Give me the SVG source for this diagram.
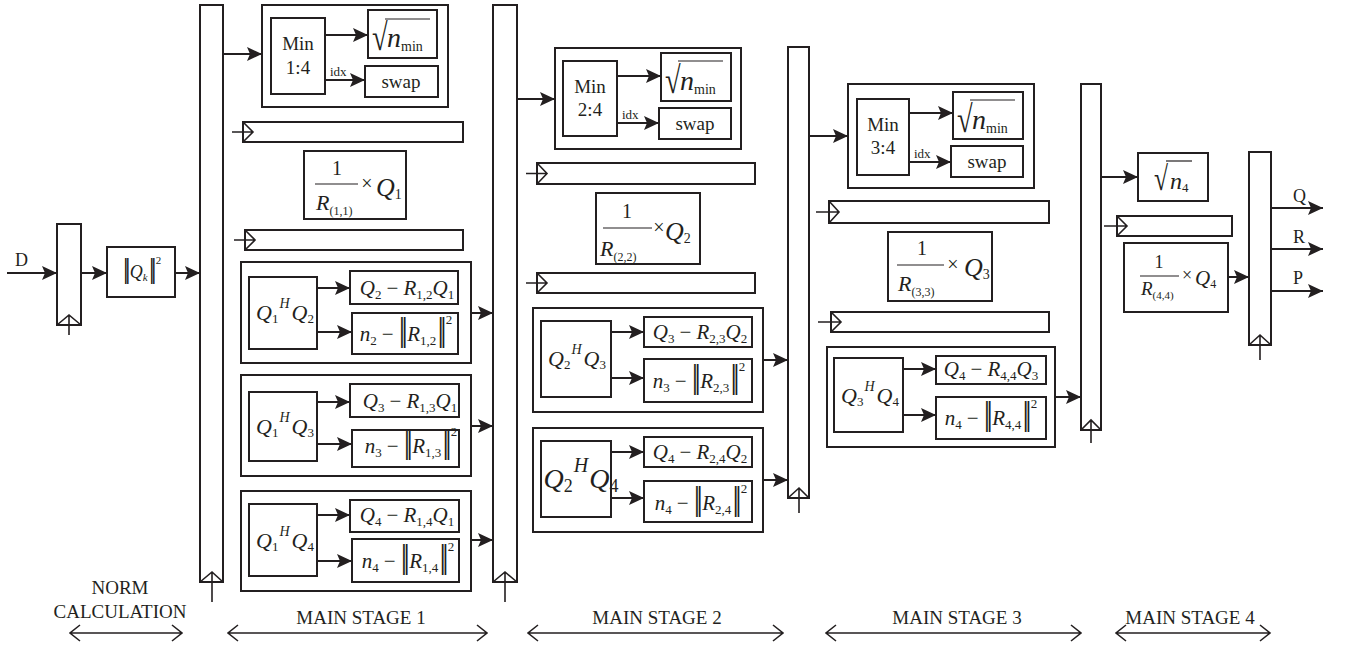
<svg xmlns="http://www.w3.org/2000/svg" width="1347" height="646" viewBox="0 0 1347 646">
<defs>
<marker id="ah" markerUnits="userSpaceOnUse" markerWidth="16" markerHeight="14" refX="15" refY="7" orient="auto"><path d="M0,0 L15,7 L0,14 L3,7 Z" fill="#231f20"/></marker>
</defs>
<style>
.bx{fill:none;stroke:#231f20;stroke-width:2}
.ar{fill:none;stroke:#231f20;stroke-width:2;marker-end:url(#ah)}
.ck{fill:none;stroke:#231f20;stroke-width:1.6}
.fl{stroke:#231f20;stroke-width:1.2}
text{font-family:Liberation Serif,serif;fill:#231f20}
.c{text-anchor:middle}
.i{font-style:italic}
.nb{letter-spacing:-4px}
.lb{font-size:19px}
.f11{font-size:11px}.f12{font-size:12px}.f13{font-size:13px}.f14{font-size:14px}.f18{font-size:18px}.f19{font-size:19px}.f20{font-size:20px}.f21{font-size:21px}.f22{font-size:22px}.f24{font-size:24px}.f26{font-size:26px}.f28{font-size:28px}.f30{font-size:30px}.f34{font-size:34px}.f38{font-size:38px}
</style>
<rect x="0" y="0" width="1347" height="646" fill="#fff"/>

<g id="connectors">
<path class="ar" d="M7,273 H57"/>
<path class="ar" d="M81,273 H107"/>
<path class="ar" d="M175,273 H200"/>
<path class="ar" d="M223,54 H262"/>
<path class="ar" d="M325,35 H368"/>
<path class="ar" d="M325,80 H365"/>
<path class="ar" d="M317,288 H350"/>
<path class="ar" d="M317,332 H352"/>
<path class="ar" d="M317,402 H350"/>
<path class="ar" d="M317,444 H352"/>
<path class="ar" d="M317,515 H350"/>
<path class="ar" d="M317,561 H352"/>
<path class="ar" d="M471,313 H493"/>
<path class="ar" d="M471,426 H493"/>
<path class="ar" d="M471,540 H493"/>
<path class="ar" d="M517,99 H555"/>
<path class="ar" d="M617,76 H661"/>
<path class="ar" d="M617,123 H659"/>
<path class="ar" d="M611,332 H644"/>
<path class="ar" d="M611,378 H644"/>
<path class="ar" d="M611,452 H644"/>
<path class="ar" d="M611,498 H644"/>
<path class="ar" d="M763,360 H788"/>
<path class="ar" d="M763,480 H788"/>
<path class="ar" d="M809,136 H848"/>
<path class="ar" d="M909,113 H953"/>
<path class="ar" d="M909,162 H951"/>
<path class="ar" d="M903,369 H936"/>
<path class="ar" d="M903,415 H936"/>
<path class="ar" d="M1055,397 H1081"/>
<path class="ar" d="M1101,177 H1138"/>
<path class="ar" d="M1228,277 H1249"/>
<path class="ar" d="M1271,208 H1323"/>
<path class="ar" d="M1271,249 H1323"/>
<path class="ar" d="M1271,291 H1323"/>
</g>

<g id="input-d">
<text font-family="Liberation Serif" class="f18" x="15" y="266">D</text>
</g>

<g id="reg0">
<rect class="bx" x="57" y="224" width="24" height="101"/>
<path class="ck" d="M57,325 L69,315 L81,325 M69,335 V315"/>
</g>

<g id="norm">
<rect class="bx" x="107" y="247" width="68" height="50"/>
<text font-family="Liberation Serif" x="142" y="278" class="c"><tspan class="f30 nb">||</tspan><tspan class="i f18" dx="3">Q</tspan><tspan class="i f11" dy="3">k</tspan><tspan class="f30 nb" dy="-3" dx="1">||</tspan><tspan class="f11" dy="-14" dx="3">2</tspan></text>
</g>

<g id="reg1">
<rect class="bx" x="200" y="5" width="23" height="577"/>
<path class="ck" d="M200,582 L212,572 L223,582 M212,602 V572"/>
</g>

<g id="s1-min">
<rect class="bx" x="262" y="5" width="186" height="102"/>
<rect class="bx" x="271" y="18" width="54" height="76"/>
<text font-family="Liberation Serif" class="f19 c" x="298" y="50">Min</text>
<text font-family="Liberation Serif" class="f19 c" x="298" y="74">1:4</text>
<rect class="bx" x="368" y="10" width="69" height="48"/>
<text font-family="Liberation Serif" class="f38" transform="translate(372,50) scale(0.75,1)">√</text>
<line class="fl" x1="385" y1="19" x2="430" y2="19"/>
<text font-family="Liberation Serif" x="387" y="47"><tspan class="i f28">n</tspan><tspan class="f14" dy="4">min</tspan></text>
<rect class="bx" x="365" y="66" width="73" height="31"/>
<text font-family="Liberation Serif" class="f19 c" x="401" y="88">swap</text>
<text font-family="Liberation Serif" class="f13" x="330" y="76">idx</text>
</g>

<g id="s1-bar1">
<rect class="bx" x="243" y="122" width="220" height="20"/>
<path class="ck" d="M243,122 L253,132 L243,142 M232,132 H253"/>
</g>

<g id="s1-scale">
<rect class="bx" x="304" y="151" width="102" height="68"/>
<text font-family="Liberation Serif" class="f20 c" x="337" y="175">1</text>
<line class="fl" x1="315" y1="184" x2="358" y2="184"/>
<text font-family="Liberation Serif" class="f20 c" x="367" y="190">×</text>
<text font-family="Liberation Serif" x="376" y="196"><tspan class="i f26">Q</tspan><tspan class="f14" dy="3">1</tspan></text>
<text font-family="Liberation Serif" x="316" y="210"><tspan class="i f22">R</tspan><tspan class="f12" dy="5">(1,1)</tspan></text>
</g>

<g id="s1-bar2">
<rect class="bx" x="245" y="230" width="218" height="20"/>
<path class="ck" d="M245,230 L255,240 L245,250 M234,240 H255"/>
</g>

<g id="s1-g2">
<rect class="bx" x="241" y="262" width="230" height="101"/>
<rect class="bx" x="249" y="277" width="68" height="72"/>
<text font-family="Liberation Serif" x="285" y="320" class="c"><tspan class="i f22">Q</tspan><tspan class="f13" dy="3">1</tspan><tspan class="i f14" dy="-15" dx="1">H</tspan><tspan class="i f22" dy="12" dx="2">Q</tspan><tspan class="f13" dy="3">2</tspan></text>
<rect class="bx" x="350" y="271" width="108" height="33"/>
<text font-family="Liberation Serif" x="407" y="295" class="c"><tspan class="i f21">Q</tspan><tspan class="f13" dy="4">2</tspan><tspan class="f21" dy="-4" dx="5">−</tspan><tspan class="i f21" dx="5">R</tspan><tspan class="f13" dy="4">1,2</tspan><tspan class="i f21" dy="-4">Q</tspan><tspan class="f13" dy="4">1</tspan></text>
<rect class="bx" x="352" y="313" width="106" height="41"/>
<text font-family="Liberation Serif" x="406" y="341" class="c"><tspan class="i f21">n</tspan><tspan class="f13" dy="4">2</tspan><tspan class="f21" dy="-4" dx="5">−</tspan><tspan class="f34 nb" dx="5">||</tspan><tspan class="i f21" dx="3">R</tspan><tspan class="f13" dy="4">1,2</tspan><tspan class="f34 nb" dy="-4" dx="1">||</tspan><tspan class="f13" dy="-17" dx="3">2</tspan></text>
</g>

<g id="s1-g3">
<rect class="bx" x="241" y="375" width="230" height="101"/>
<rect class="bx" x="249" y="392" width="68" height="69"/>
<text font-family="Liberation Serif" x="285" y="434" class="c"><tspan class="i f22">Q</tspan><tspan class="f13" dy="3">1</tspan><tspan class="i f14" dy="-15" dx="1">H</tspan><tspan class="i f22" dy="12" dx="2">Q</tspan><tspan class="f13" dy="3">3</tspan></text>
<rect class="bx" x="350" y="384" width="109" height="33"/>
<text font-family="Liberation Serif" x="410" y="408" class="c"><tspan class="i f21">Q</tspan><tspan class="f13" dy="4">3</tspan><tspan class="f21" dy="-4" dx="5">−</tspan><tspan class="i f21" dx="5">R</tspan><tspan class="f13" dy="4">1,3</tspan><tspan class="i f21" dy="-4">Q</tspan><tspan class="f13" dy="4">1</tspan></text>
<rect class="bx" x="352" y="430" width="107" height="37"/>
<text font-family="Liberation Serif" x="411" y="453" class="c"><tspan class="i f21">n</tspan><tspan class="f13" dy="4">3</tspan><tspan class="f21" dy="-4" dx="5">−</tspan><tspan class="f34 nb" dx="5">||</tspan><tspan class="i f21" dx="3">R</tspan><tspan class="f13" dy="4">1,3</tspan><tspan class="f34 nb" dy="-4" dx="1">||</tspan><tspan class="f13" dy="-17" dx="3">2</tspan></text>
</g>

<g id="s1-g4">
<rect class="bx" x="241" y="491" width="230" height="100"/>
<rect class="bx" x="249" y="504" width="68" height="72"/>
<text font-family="Liberation Serif" x="285" y="548" class="c"><tspan class="i f22">Q</tspan><tspan class="f13" dy="3">1</tspan><tspan class="i f14" dy="-15" dx="1">H</tspan><tspan class="i f22" dy="12" dx="2">Q</tspan><tspan class="f13" dy="3">4</tspan></text>
<rect class="bx" x="350" y="500" width="109" height="32"/>
<text font-family="Liberation Serif" x="407" y="522" class="c"><tspan class="i f21">Q</tspan><tspan class="f13" dy="4">4</tspan><tspan class="f21" dy="-4" dx="5">−</tspan><tspan class="i f21" dx="5">R</tspan><tspan class="f13" dy="4">1,4</tspan><tspan class="i f21" dy="-4">Q</tspan><tspan class="f13" dy="4">1</tspan></text>
<rect class="bx" x="352" y="539" width="107" height="43"/>
<text font-family="Liberation Serif" x="408" y="568" class="c"><tspan class="i f21">n</tspan><tspan class="f13" dy="4">4</tspan><tspan class="f21" dy="-4" dx="5">−</tspan><tspan class="f34 nb" dx="5">||</tspan><tspan class="i f21" dx="3">R</tspan><tspan class="f13" dy="4">1,4</tspan><tspan class="f34 nb" dy="-4" dx="1">||</tspan><tspan class="f13" dy="-17" dx="3">2</tspan></text>
</g>

<g id="reg2">
<rect class="bx" x="493" y="5" width="24" height="577"/>
<path class="ck" d="M493,582 L505,572 L517,582 M505,602 V572"/>
</g>

<g id="s2-min">
<rect class="bx" x="555" y="48" width="186" height="101"/>
<rect class="bx" x="563" y="61" width="54" height="75"/>
<text font-family="Liberation Serif" class="f19 c" x="590" y="93">Min</text>
<text font-family="Liberation Serif" class="f19 c" x="590" y="116">2:4</text>
<rect class="bx" x="661" y="53" width="70" height="48"/>
<text font-family="Liberation Serif" class="f38" transform="translate(665,93) scale(0.75,1)">√</text>
<line class="fl" x1="678" y1="61" x2="723" y2="61"/>
<text font-family="Liberation Serif" x="680" y="90"><tspan class="i f28">n</tspan><tspan class="f14" dy="4">min</tspan></text>
<rect class="bx" x="659" y="108" width="72" height="31"/>
<text font-family="Liberation Serif" class="f19 c" x="695" y="130">swap</text>
<text font-family="Liberation Serif" class="f13" x="622" y="119">idx</text>
</g>

<g id="s2-bar1">
<rect class="bx" x="537" y="163" width="218" height="21"/>
<path class="ck" d="M537,163 L547,173.5 L537,184 M526,173.5 H547"/>
</g>

<g id="s2-scale">
<rect class="bx" x="596" y="193" width="104" height="71"/>
<text font-family="Liberation Serif" class="f20 c" x="627" y="218">1</text>
<line class="fl" x1="603" y1="228" x2="652" y2="228"/>
<text font-family="Liberation Serif" class="f20 c" x="659" y="234">×</text>
<text font-family="Liberation Serif" x="665" y="240"><tspan class="i f26">Q</tspan><tspan class="f14" dy="3">2</tspan></text>
<text font-family="Liberation Serif" x="600" y="256"><tspan class="i f22">R</tspan><tspan class="f12" dy="5">(2,2)</tspan></text>
</g>

<g id="s2-bar2">
<rect class="bx" x="537" y="273" width="218" height="20"/>
<path class="ck" d="M537,273 L547,283 L537,293 M526,283 H547"/>
</g>

<g id="s2-g3">
<rect class="bx" x="533" y="308" width="230" height="104"/>
<rect class="bx" x="541" y="321" width="70" height="76"/>
<text font-family="Liberation Serif" x="577" y="366" class="c"><tspan class="i f22">Q</tspan><tspan class="f13" dy="3">2</tspan><tspan class="i f14" dy="-15" dx="1">H</tspan><tspan class="i f22" dy="12" dx="2">Q</tspan><tspan class="f13" dy="3">3</tspan></text>
<rect class="bx" x="644" y="317" width="108" height="30"/>
<text font-family="Liberation Serif" x="700" y="339" class="c"><tspan class="i f21">Q</tspan><tspan class="f13" dy="4">3</tspan><tspan class="f21" dy="-4" dx="5">−</tspan><tspan class="i f21" dx="5">R</tspan><tspan class="f13" dy="4">2,3</tspan><tspan class="i f21" dy="-4">Q</tspan><tspan class="f13" dy="4">2</tspan></text>
<rect class="bx" x="644" y="359" width="108" height="43"/>
<text font-family="Liberation Serif" x="699" y="388" class="c"><tspan class="i f21">n</tspan><tspan class="f13" dy="4">3</tspan><tspan class="f21" dy="-4" dx="5">−</tspan><tspan class="f34 nb" dx="5">||</tspan><tspan class="i f21" dx="3">R</tspan><tspan class="f13" dy="4">2,3</tspan><tspan class="f34 nb" dy="-4" dx="1">||</tspan><tspan class="f13" dy="-17" dx="3">2</tspan></text>
</g>

<g id="s2-g4">
<rect class="bx" x="533" y="428" width="230" height="104"/>
<rect class="bx" x="541" y="441" width="70" height="76"/>
<text font-family="Liberation Serif" x="581" y="488" class="c"><tspan class="i f28">Q</tspan><tspan class="f18" dy="4">2</tspan><tspan class="i f20" dy="-20" dx="1">H</tspan><tspan class="i f28" dy="16" dx="1">Q</tspan><tspan class="f18" dy="4">4</tspan></text>
<rect class="bx" x="644" y="437" width="108" height="30"/>
<text font-family="Liberation Serif" x="700" y="459" class="c"><tspan class="i f21">Q</tspan><tspan class="f13" dy="4">4</tspan><tspan class="f21" dy="-4" dx="5">−</tspan><tspan class="i f21" dx="5">R</tspan><tspan class="f13" dy="4">2,4</tspan><tspan class="i f21" dy="-4">Q</tspan><tspan class="f13" dy="4">2</tspan></text>
<rect class="bx" x="644" y="481" width="108" height="41"/>
<text font-family="Liberation Serif" x="701" y="510" class="c"><tspan class="i f21">n</tspan><tspan class="f13" dy="4">4</tspan><tspan class="f21" dy="-4" dx="5">−</tspan><tspan class="f34 nb" dx="5">||</tspan><tspan class="i f21" dx="3">R</tspan><tspan class="f13" dy="4">2,4</tspan><tspan class="f34 nb" dy="-4" dx="1">||</tspan><tspan class="f13" dy="-17" dx="3">2</tspan></text>
</g>

<g id="reg3">
<rect class="bx" x="788" y="47" width="21" height="451"/>
<path class="ck" d="M788,498 L799,488 L809,498 M799,513 V488"/>
</g>

<g id="s3-min">
<rect class="bx" x="848" y="84" width="186" height="104"/>
<rect class="bx" x="857" y="99" width="52" height="76"/>
<text font-family="Liberation Serif" class="f19 c" x="883" y="131">Min</text>
<text font-family="Liberation Serif" class="f19 c" x="883" y="154">3:4</text>
<rect class="bx" x="953" y="92" width="70" height="47"/>
<text font-family="Liberation Serif" class="f38" transform="translate(957,132) scale(0.75,1)">√</text>
<line class="fl" x1="970" y1="100" x2="1015" y2="100"/>
<text font-family="Liberation Serif" x="972" y="129"><tspan class="i f28">n</tspan><tspan class="f14" dy="4">min</tspan></text>
<rect class="bx" x="951" y="146" width="72" height="31"/>
<text font-family="Liberation Serif" class="f19 c" x="987" y="168">swap</text>
<text font-family="Liberation Serif" class="f13" x="914" y="158">idx</text>
</g>

<g id="s3-bar1">
<rect class="bx" x="829" y="201" width="220" height="22"/>
<path class="ck" d="M829,201 L839,212 L829,223 M816,212 H839"/>
</g>

<g id="s3-scale">
<rect class="bx" x="888" y="232" width="104" height="69"/>
<text font-family="Liberation Serif" class="f20 c" x="922" y="255">1</text>
<line class="fl" x1="897" y1="265" x2="944" y2="265"/>
<text font-family="Liberation Serif" class="f20 c" x="953" y="271">×</text>
<text font-family="Liberation Serif" x="964" y="276"><tspan class="i f26">Q</tspan><tspan class="f14" dy="3">3</tspan></text>
<text font-family="Liberation Serif" x="898" y="291"><tspan class="i f22">R</tspan><tspan class="f12" dy="5">(3,3)</tspan></text>
</g>

<g id="s3-bar2">
<rect class="bx" x="831" y="312" width="218" height="20"/>
<path class="ck" d="M831,312 L841,322 L831,332 M818,322 H841"/>
</g>

<g id="s3-g4">
<rect class="bx" x="827" y="347" width="228" height="100"/>
<rect class="bx" x="834" y="358" width="69" height="74"/>
<text font-family="Liberation Serif" x="870" y="403" class="c"><tspan class="i f22">Q</tspan><tspan class="f13" dy="3">3</tspan><tspan class="i f14" dy="-15" dx="1">H</tspan><tspan class="i f22" dy="12" dx="2">Q</tspan><tspan class="f13" dy="3">4</tspan></text>
<rect class="bx" x="936" y="356" width="110" height="28"/>
<text font-family="Liberation Serif" x="991" y="376" class="c"><tspan class="i f21">Q</tspan><tspan class="f13" dy="4">4</tspan><tspan class="f21" dy="-4" dx="5">−</tspan><tspan class="i f21" dx="5">R</tspan><tspan class="f13" dy="4">4,4</tspan><tspan class="i f21" dy="-4">Q</tspan><tspan class="f13" dy="4">3</tspan></text>
<rect class="bx" x="936" y="397" width="110" height="42"/>
<text font-family="Liberation Serif" x="991" y="425" class="c"><tspan class="i f21">n</tspan><tspan class="f13" dy="4">4</tspan><tspan class="f21" dy="-4" dx="5">−</tspan><tspan class="f34 nb" dx="5">||</tspan><tspan class="i f21" dx="3">R</tspan><tspan class="f13" dy="4">4,4</tspan><tspan class="f34 nb" dy="-4" dx="1">||</tspan><tspan class="f13" dy="-17" dx="3">2</tspan></text>
</g>

<g id="reg4">
<rect class="bx" x="1081" y="84" width="20" height="346"/>
<path class="ck" d="M1081,430 L1091,420 L1101,430 M1091,443 V420"/>
</g>

<g id="s4-sqrt">
<rect class="bx" x="1138" y="153" width="70" height="48"/>
<text font-family="Liberation Serif" class="f34" transform="translate(1154,190) scale(0.75,1)">√</text>
<line class="fl" x1="1166" y1="161" x2="1192" y2="161"/>
<text font-family="Liberation Serif" x="1170" y="189"><tspan class="i f24">n</tspan><tspan class="f13" dy="3">4</tspan></text>
</g>

<g id="s4-bar">
<rect class="bx" x="1117" y="216" width="115" height="20"/>
<path class="ck" d="M1117,216 L1127,226 L1117,236 M1104,226 H1127"/>
</g>

<g id="s4-scale">
<rect class="bx" x="1124" y="243" width="104" height="69"/>
<text font-family="Liberation Serif" class="f18 c" x="1159" y="268">1</text>
<line class="fl" x1="1140" y1="276" x2="1179" y2="276"/>
<text font-family="Liberation Serif" class="f18 c" x="1187" y="281">×</text>
<text font-family="Liberation Serif" x="1195" y="285"><tspan class="i f21">Q</tspan><tspan class="f12" dy="3">4</tspan></text>
<text font-family="Liberation Serif" x="1141" y="295"><tspan class="i f19">R</tspan><tspan class="f11" dy="4">(4,4)</tspan></text>
</g>

<g id="reg5">
<rect class="bx" x="1249" y="152" width="22" height="193"/>
<path class="ck" d="M1249,345 L1260,335 L1271,345 M1260,360 V335"/>
</g>

<g id="outputs">
<text font-family="Liberation Serif" class="f18" x="1293" y="202">Q</text>
<text font-family="Liberation Serif" class="f18" x="1293" y="243">R</text>
<text font-family="Liberation Serif" class="f18" x="1293" y="284">P</text>
</g>

<g id="stage-labels">
<text font-family="Liberation Serif" class="lb c" x="120" y="594">NORM</text>
<text font-family="Liberation Serif" class="lb c" x="120" y="618">CALCULATION</text>
<path class="ck" d="M70,633 H182 M80,625 L70,633 L80,641 M172,625 L182,633 L172,641"/>
<text font-family="Liberation Serif" class="lb c" x="361" y="624">MAIN STAGE 1</text>
<path class="ck" d="M228,633 H487 M238,625 L228,633 L238,641 M477,625 L487,633 L477,641"/>
<text font-family="Liberation Serif" class="lb c" x="657" y="624">MAIN STAGE 2</text>
<path class="ck" d="M528,633 H783 M538,625 L528,633 L538,641 M773,625 L783,633 L773,641"/>
<text font-family="Liberation Serif" class="lb c" x="957" y="624">MAIN STAGE 3</text>
<path class="ck" d="M826,633 H1081 M836,625 L826,633 L836,641 M1071,625 L1081,633 L1071,641"/>
<text font-family="Liberation Serif" class="lb c" x="1190" y="624">MAIN STAGE 4</text>
<path class="ck" d="M1116,633 H1270 M1126,625 L1116,633 L1126,641 M1260,625 L1270,633 L1260,641"/>
</g>
</svg>
